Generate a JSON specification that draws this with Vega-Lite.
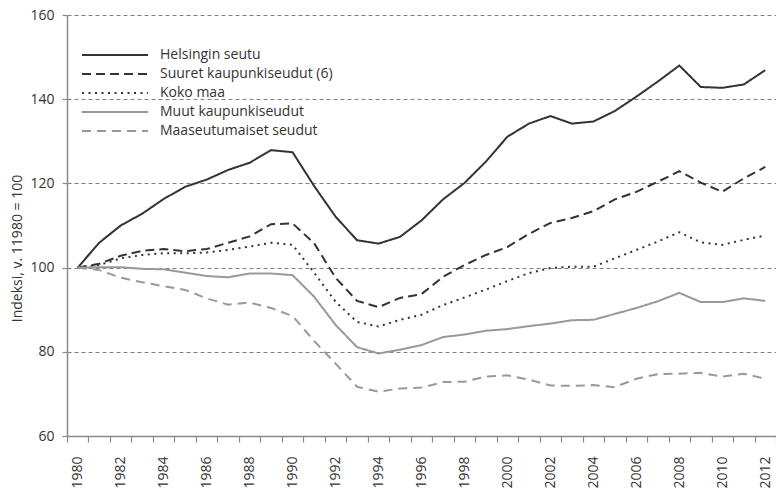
{
  "$schema": "https://vega.github.io/schema/vega-lite/v6.json",
  "width": 709,
  "height": 421,
  "autosize": "none",
  "padding": {"left": 67, "top": 15, "right": 0, "bottom": 61},
  "background": "white",
  "config": {"font": "Open Sans", "view": {"stroke": null}},
  "data": {"values": [
    {"year": 1980, "Helsingin seutu": 100, "Suuret kaupunkiseudut (6)": 100, "Koko maa": 100, "Muut kaupunkiseudut": 100, "Maaseutumaiset seudut": 100},
    {"year": 1981, "Helsingin seutu": 105.9, "Suuret kaupunkiseudut (6)": 100.9, "Koko maa": 100.6, "Muut kaupunkiseudut": 100.1, "Maaseutumaiset seudut": 99.4},
    {"year": 1982, "Helsingin seutu": 110.0, "Suuret kaupunkiseudut (6)": 102.8, "Koko maa": 102.2, "Muut kaupunkiseudut": 100.1, "Maaseutumaiset seudut": 97.6},
    {"year": 1983, "Helsingin seutu": 112.8, "Suuret kaupunkiseudut (6)": 104.0, "Koko maa": 103.0, "Muut kaupunkiseudut": 99.7, "Maaseutumaiset seudut": 96.5},
    {"year": 1984, "Helsingin seutu": 116.3, "Suuret kaupunkiseudut (6)": 104.4, "Koko maa": 103.4, "Muut kaupunkiseudut": 99.6, "Maaseutumaiset seudut": 95.6},
    {"year": 1985, "Helsingin seutu": 119.2, "Suuret kaupunkiseudut (6)": 103.9, "Koko maa": 103.4, "Muut kaupunkiseudut": 98.8, "Maaseutumaiset seudut": 94.7},
    {"year": 1986, "Helsingin seutu": 120.9, "Suuret kaupunkiseudut (6)": 104.4, "Koko maa": 103.6, "Muut kaupunkiseudut": 98.0, "Maaseutumaiset seudut": 92.7},
    {"year": 1987, "Helsingin seutu": 123.2, "Suuret kaupunkiseudut (6)": 105.9, "Koko maa": 104.2, "Muut kaupunkiseudut": 97.7, "Maaseutumaiset seudut": 91.2},
    {"year": 1988, "Helsingin seutu": 124.9, "Suuret kaupunkiseudut (6)": 107.4, "Koko maa": 105.0, "Muut kaupunkiseudut": 98.6, "Maaseutumaiset seudut": 91.7},
    {"year": 1989, "Helsingin seutu": 127.9, "Suuret kaupunkiseudut (6)": 110.3, "Koko maa": 105.9, "Muut kaupunkiseudut": 98.6, "Maaseutumaiset seudut": 90.4},
    {"year": 1990, "Helsingin seutu": 127.4, "Suuret kaupunkiseudut (6)": 110.5, "Koko maa": 105.4, "Muut kaupunkiseudut": 98.2, "Maaseutumaiset seudut": 88.5},
    {"year": 1991, "Helsingin seutu": 119.4, "Suuret kaupunkiseudut (6)": 105.8, "Koko maa": 98.8, "Muut kaupunkiseudut": 93.1, "Maaseutumaiset seudut": 82.6},
    {"year": 1992, "Helsingin seutu": 112.1, "Suuret kaupunkiseudut (6)": 97.6, "Koko maa": 91.9, "Muut kaupunkiseudut": 86.4, "Maaseutumaiset seudut": 77.2},
    {"year": 1993, "Helsingin seutu": 106.5, "Suuret kaupunkiseudut (6)": 92.1, "Koko maa": 87.1, "Muut kaupunkiseudut": 81.1, "Maaseutumaiset seudut": 71.7},
    {"year": 1994, "Helsingin seutu": 105.7, "Suuret kaupunkiseudut (6)": 90.6, "Koko maa": 86.0, "Muut kaupunkiseudut": 79.6, "Maaseutumaiset seudut": 70.5},
    {"year": 1995, "Helsingin seutu": 107.3, "Suuret kaupunkiseudut (6)": 92.8, "Koko maa": 87.6, "Muut kaupunkiseudut": 80.5, "Maaseutumaiset seudut": 71.3},
    {"year": 1996, "Helsingin seutu": 111.2, "Suuret kaupunkiseudut (6)": 93.7, "Koko maa": 88.8, "Muut kaupunkiseudut": 81.6, "Maaseutumaiset seudut": 71.5},
    {"year": 1997, "Helsingin seutu": 116.2, "Suuret kaupunkiseudut (6)": 97.8, "Koko maa": 91.1, "Muut kaupunkiseudut": 83.5, "Maaseutumaiset seudut": 72.8},
    {"year": 1998, "Helsingin seutu": 120.1, "Suuret kaupunkiseudut (6)": 100.6, "Koko maa": 92.9, "Muut kaupunkiseudut": 84.1, "Maaseutumaiset seudut": 72.9},
    {"year": 1999, "Helsingin seutu": 125.2, "Suuret kaupunkiseudut (6)": 103.0, "Koko maa": 94.8, "Muut kaupunkiseudut": 85.0, "Maaseutumaiset seudut": 74.1},
    {"year": 2000, "Helsingin seutu": 131.1, "Suuret kaupunkiseudut (6)": 104.9, "Koko maa": 96.8, "Muut kaupunkiseudut": 85.4, "Maaseutumaiset seudut": 74.4},
    {"year": 2001, "Helsingin seutu": 134.2, "Suuret kaupunkiseudut (6)": 108.0, "Koko maa": 98.7, "Muut kaupunkiseudut": 86.1, "Maaseutumaiset seudut": 73.4},
    {"year": 2002, "Helsingin seutu": 136.0, "Suuret kaupunkiseudut (6)": 110.6, "Koko maa": 99.9, "Muut kaupunkiseudut": 86.7, "Maaseutumaiset seudut": 72.0},
    {"year": 2003, "Helsingin seutu": 134.2, "Suuret kaupunkiseudut (6)": 111.8, "Koko maa": 100.2, "Muut kaupunkiseudut": 87.5, "Maaseutumaiset seudut": 71.9},
    {"year": 2004, "Helsingin seutu": 134.7, "Suuret kaupunkiseudut (6)": 113.4, "Koko maa": 100.2, "Muut kaupunkiseudut": 87.6, "Maaseutumaiset seudut": 72.1},
    {"year": 2005, "Helsingin seutu": 137.2, "Suuret kaupunkiseudut (6)": 116.2, "Koko maa": 102.2, "Muut kaupunkiseudut": 89.0, "Maaseutumaiset seudut": 71.6},
    {"year": 2006, "Helsingin seutu": 140.6, "Suuret kaupunkiseudut (6)": 118.0, "Koko maa": 104.2, "Muut kaupunkiseudut": 90.4, "Maaseutumaiset seudut": 73.6},
    {"year": 2007, "Helsingin seutu": 144.2, "Suuret kaupunkiseudut (6)": 120.4, "Koko maa": 106.2, "Muut kaupunkiseudut": 92.0, "Maaseutumaiset seudut": 74.7},
    {"year": 2008, "Helsingin seutu": 148.0, "Suuret kaupunkiseudut (6)": 122.9, "Koko maa": 108.4, "Muut kaupunkiseudut": 94.0, "Maaseutumaiset seudut": 74.8},
    {"year": 2009, "Helsingin seutu": 142.9, "Suuret kaupunkiseudut (6)": 120.2, "Koko maa": 106.0, "Muut kaupunkiseudut": 91.8, "Maaseutumaiset seudut": 75.0},
    {"year": 2010, "Helsingin seutu": 142.7, "Suuret kaupunkiseudut (6)": 118.0, "Koko maa": 105.4, "Muut kaupunkiseudut": 91.8, "Maaseutumaiset seudut": 74.1},
    {"year": 2011, "Helsingin seutu": 143.5, "Suuret kaupunkiseudut (6)": 121.2, "Koko maa": 106.6, "Muut kaupunkiseudut": 92.7, "Maaseutumaiset seudut": 74.8},
    {"year": 2012, "Helsingin seutu": 146.9, "Suuret kaupunkiseudut (6)": 123.9, "Koko maa": 107.6, "Muut kaupunkiseudut": 92.1, "Maaseutumaiset seudut": 73.6}
  ]},
  "transform": [
    {"fold": ["Helsingin seutu", "Suuret kaupunkiseudut (6)", "Koko maa", "Muut kaupunkiseudut", "Maaseutumaiset seudut"], "as": ["series", "value"]}
  ],
  "mark": {"type": "line", "strokeWidth": 2},
  "encoding": {
    "x": {
      "field": "year", "type": "ordinal", "bandPosition": 0.5,
      "scale": {"type": "band", "paddingInner": 0, "paddingOuter": 0},
      "axis": {
        "title": null, "tickBand": "extent", "tickSize": 6, "tickColor": "#8a8a8a", "tickWidth": 1.2,
        "domainColor": "#8a8a8a", "domainWidth": 1.5,
        "labelAngle": 270, "labelPadding": 14, "labelFontSize": 14, "labelColor": "#333333", "labelFont": "Open Sans",
        "labelOverlap": false,
        "labelExpr": "datum.value % 2 === 0 ? datum.label : ''"
      }
    },
    "y": {
      "field": "value", "type": "quantitative",
      "scale": {"domain": [60, 160], "nice": false, "zero": false},
      "axis": {
        "values": [60, 80, 100, 120, 140, 160],
        "title": "Indeksi, v. 11980 = 100", "titleFontSize": 14, "titleFontWeight": "normal", "titleColor": "#333333", "titleFont": "Open Sans",
        "titleAngle": 270, "titleAlign": "center", "titleBaseline": "middle", "titleX": -50, "titleY": 233,
        "labelFontSize": 14, "labelColor": "#333333", "labelPadding": 8, "labelFont": "Open Sans",
        "tickSize": 5, "tickColor": "#8a8a8a", "tickWidth": 1.2,
        "domainColor": "#8a8a8a", "domainWidth": 1.5,
        "grid": true, "gridDash": [4, 3], "gridColor": "#808080", "gridWidth": 1
      }
    },
    "color": {
      "field": "series", "type": "nominal",
      "scale": {
        "domain": ["Helsingin seutu", "Suuret kaupunkiseudut (6)", "Koko maa", "Muut kaupunkiseudut", "Maaseutumaiset seudut"],
        "range": ["#333333", "#333333", "#333333", "#999999", "#999999"]
      },
      "legend": {
        "title": null, "orient": "none", "legendX": 40, "legendY": 32,
        "symbolType": "M-5,0H5", "symbolSize": 174, "symbolStrokeWidth": 2,
        "labelFontSize": 14, "labelColor": "#333333", "labelFont": "Open Sans", "labelOffset": 37,
        "rowPadding": 4, "labelLimit": 300
      }
    },
    "strokeDash": {
      "field": "series", "type": "nominal",
      "scale": {
        "domain": ["Helsingin seutu", "Suuret kaupunkiseudut (6)", "Koko maa", "Muut kaupunkiseudut", "Maaseutumaiset seudut"],
        "range": [[1, 0], [9, 5], [2, 4.5], [1, 0], [9, 6]]
      },
      "legend": {
        "title": null, "orient": "none", "legendX": 40, "legendY": 32,
        "symbolType": "M-5,0H5", "symbolSize": 174, "symbolStrokeWidth": 2,
        "labelFontSize": 14, "labelColor": "#333333", "labelFont": "Open Sans", "labelOffset": 37,
        "rowPadding": 4, "labelLimit": 300
      }
    }
  }
}
